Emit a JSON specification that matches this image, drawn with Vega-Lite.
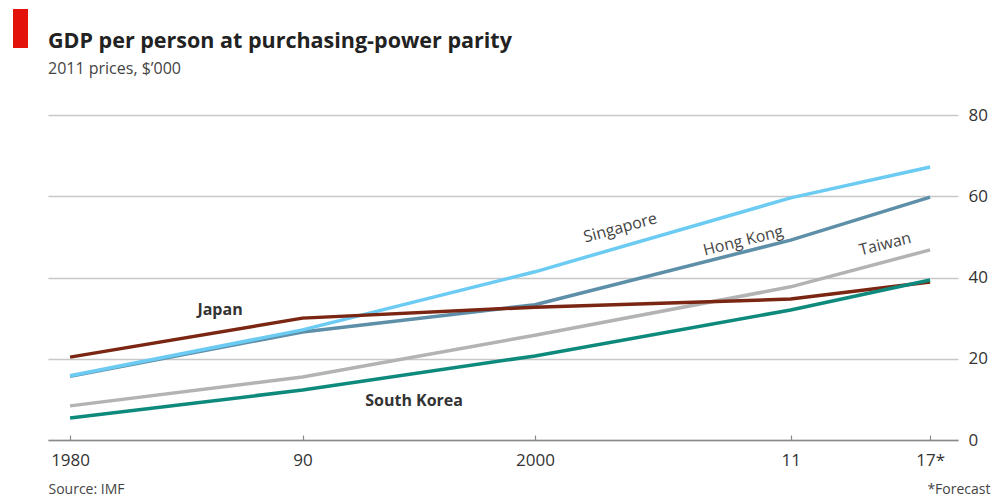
{
  "$schema": "https://vega.github.io/schema/vega-lite/v6.json",
  "width": 910,
  "height": 325,
  "autosize": {"type": "none"},
  "padding": {"left": 48, "top": 115, "right": 34, "bottom": 56},
  "background": "white",
  "config": {"view": {"stroke": null}, "font": "Open Sans"},
  "title": {
    "text": "GDP per person at purchasing-power parity",
    "subtitle": "2011 prices, $’000",
    "anchor": "start",
    "frame": "group",
    "font": "Open Sans",
    "fontSize": 21.5,
    "fontWeight": "bold",
    "color": "#222222",
    "subtitleFont": "Open Sans",
    "subtitleFontSize": 16,
    "subtitleColor": "#444444",
    "subtitlePadding": 9,
    "offset": 34,
    "dy": 102
  },
  "datasets": {
    "gdp": [
      {"country": "Taiwan", "year": 1980, "gdp": 8.4},
      {"country": "Taiwan", "year": 1990, "gdp": 15.5},
      {"country": "Taiwan", "year": 2000, "gdp": 25.8},
      {"country": "Taiwan", "year": 2011, "gdp": 37.7},
      {"country": "Taiwan", "year": 2017, "gdp": 46.8},
      {"country": "Hong Kong", "year": 1980, "gdp": 15.7},
      {"country": "Hong Kong", "year": 1990, "gdp": 26.6},
      {"country": "Hong Kong", "year": 2000, "gdp": 33.3},
      {"country": "Hong Kong", "year": 2011, "gdp": 49.2},
      {"country": "Hong Kong", "year": 2017, "gdp": 59.8},
      {"country": "Singapore", "year": 1980, "gdp": 15.8},
      {"country": "Singapore", "year": 1990, "gdp": 27.1},
      {"country": "Singapore", "year": 2000, "gdp": 41.4},
      {"country": "Singapore", "year": 2011, "gdp": 59.6},
      {"country": "Singapore", "year": 2017, "gdp": 67.2},
      {"country": "Japan", "year": 1980, "gdp": 20.4},
      {"country": "Japan", "year": 1990, "gdp": 30.0},
      {"country": "Japan", "year": 2000, "gdp": 32.7},
      {"country": "Japan", "year": 2011, "gdp": 34.7},
      {"country": "Japan", "year": 2017, "gdp": 38.9},
      {"country": "South Korea", "year": 1980, "gdp": 5.4},
      {"country": "South Korea", "year": 1990, "gdp": 12.3},
      {"country": "South Korea", "year": 2000, "gdp": 20.7},
      {"country": "South Korea", "year": 2011, "gdp": 32.0},
      {"country": "South Korea", "year": 2017, "gdp": 39.4}
    ],
    "labels": [
      {"label": "Japan", "year": 1986.45, "gdp": 32.0},
      {"label": "South Korea", "year": 1994.8, "gdp": 9.6},
      {"label": "Singapore", "year": 2003.67, "gdp": 52.2},
      {"label": "Hong Kong", "year": 2008.96, "gdp": 49.0},
      {"label": "Taiwan", "year": 2015.07, "gdp": 48.2}
    ]
  },
  "layer": [
    {
      "data": {"values": [{}]},
      "mark": {"type": "rect", "color": "#e3120b", "x": -35, "x2": -20, "y": -106, "y2": -67, "clip": false},
      "encoding": {}
    },
    {
      "data": {"name": "gdp"},
      "mark": {"type": "line", "interpolate": "linear", "strokeWidth": 3.5, "strokeJoin": "round", "strokeCap": "butt"},
      "encoding": {
        "x": {
          "field": "year",
          "type": "quantitative",
          "scale": {"domain": [1979.05, 2018.2], "nice": false, "zero": false},
          "axis": {
            "orient": "bottom",
            "values": [1980, 1990, 2000, 2011, 2017],
            "labelExpr": "datum.value == 1980 ? '1980' : datum.value == 1990 ? '90' : datum.value == 2000 ? '2000' : datum.value == 2011 ? '11' : '17*'",
            "grid": false,
            "domainColor": "#8a8a8a",
            "domainWidth": 1.5,
            "tickColor": "#8a8a8a",
            "tickSize": -5,
            "tickWidth": 1.2,
            "labelFont": "Open Sans",
            "labelFontSize": 17,
            "labelColor": "#333333",
            "labelPadding": 17,
            "labelFlush": false,
            "title": "Source: IMF",
            "titleFont": "Open Sans",
            "titleFontSize": 14,
            "titleFontWeight": "normal",
            "titleColor": "#444444",
            "titleAnchor": "start",
            "titleAlign": "left",
            "titleBaseline": "alphabetic",
            "titleX": 0,
            "titleY": 53,
            "zindex": 1
          }
        },
        "y": {
          "field": "gdp",
          "type": "quantitative",
          "scale": {"domain": [0, 80], "nice": false},
          "axis": {
            "orient": "right",
            "values": [0, 20, 40, 60, 80],
            "grid": true,
            "gridColor": "#c8c8c8",
            "gridWidth": 1.3,
            "domain": false,
            "ticks": false,
            "labelPadding": 10,
            "labelFont": "Open Sans",
            "labelFontSize": 17,
            "labelColor": "#333333",
            "labelAlign": "left",
            "labelBaseline": "middle",
            "title": "*Forecast",
            "titleAngle": 0,
            "titleAlign": "right",
            "titleBaseline": "alphabetic",
            "titleX": 32,
            "titleY": 378,
            "titleFont": "Open Sans",
            "titleFontSize": 14,
            "titleFontWeight": "normal",
            "titleColor": "#444444",
            "zindex": 0
          }
        },
        "color": {
          "field": "country",
          "type": "nominal",
          "scale": {
            "domain": ["Taiwan", "Hong Kong", "Singapore", "Japan", "South Korea"],
            "range": ["#b3b3b3", "#5e8fa8", "#6ccbf2", "#7a2613", "#0e8a7d"]
          },
          "legend": null
        },
        "order": {"field": "year", "type": "quantitative"}
      }
    },
    {
      "data": {"name": "labels"},
      "transform": [{"filter": "datum.label == 'Japan' || datum.label == 'South Korea'"}],
      "mark": {"type": "text", "font": "Open Sans", "fontSize": 16, "fontWeight": "bold", "color": "#333333", "align": "center", "baseline": "middle"},
      "encoding": {
        "x": {"field": "year", "type": "quantitative"},
        "y": {"field": "gdp", "type": "quantitative"},
        "text": {"field": "label"}
      }
    },
    {
      "data": {"name": "labels"},
      "transform": [{"filter": "datum.label == 'Singapore'"}],
      "mark": {"type": "text", "font": "Open Sans", "fontSize": 16, "color": "#444444", "align": "center", "baseline": "middle", "angle": -15},
      "encoding": {
        "x": {"field": "year", "type": "quantitative"},
        "y": {"field": "gdp", "type": "quantitative"},
        "text": {"field": "label"}
      }
    },
    {
      "data": {"name": "labels"},
      "transform": [{"filter": "datum.label == 'Hong Kong' || datum.label == 'Taiwan'"}],
      "mark": {"type": "text", "font": "Open Sans", "fontSize": 16, "color": "#444444", "align": "center", "baseline": "middle", "angle": -14},
      "encoding": {
        "x": {"field": "year", "type": "quantitative"},
        "y": {"field": "gdp", "type": "quantitative"},
        "text": {"field": "label"}
      }
    }
  ]
}
